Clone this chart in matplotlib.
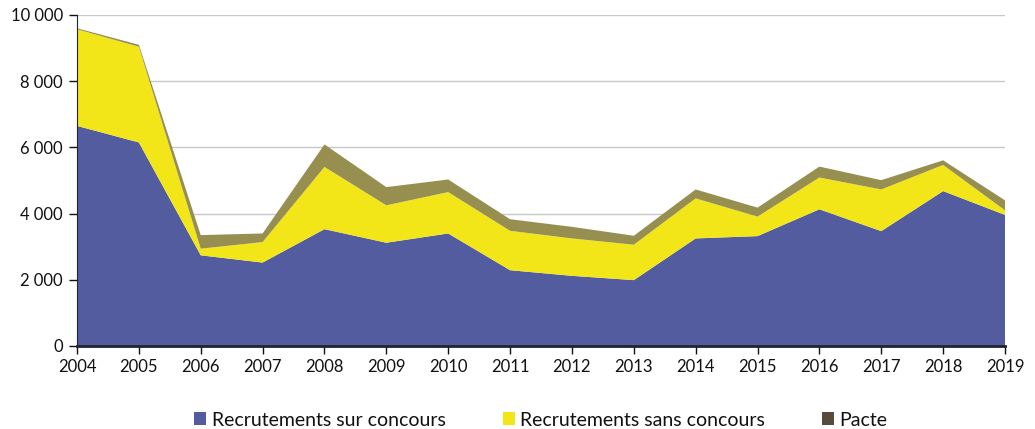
import matplotlib
matplotlib.use("Agg")
import matplotlib.pyplot as plt
from matplotlib.patches import Patch
from matplotlib.ticker import FuncFormatter

years = list(range(2004, 2020))
sur_concours = [6650, 6150, 2740, 2520, 3530, 3120, 3400, 2290, 2120, 1990, 3250, 3320, 4130, 3470, 4680, 3960]
sans_concours = [2920, 2890, 200, 620, 1880, 1130, 1250, 1190, 1130, 1070, 1210, 590, 960, 1260, 790, 140]
pacte = [30, 60, 410, 260, 680, 550, 380, 350, 350, 270, 270, 270, 330, 280, 140, 300]
series_labels = ["Recrutements sur concours", "Recrutements sans concours", "Pacte"]
area_colors = ["#525C9F", "#F2E619", "#968F50"]
legend_colors = ["#525C9F", "#F2E619", "#5A4A3B"]

plt.rcParams['font.family'] = ['Lato', 'DejaVu Sans']

fig = plt.figure(figsize=(10.35, 4.29), dpi=100)
ax = fig.add_axes([77/1035, 1 - 346/429, (1005 - 77)/1035, (346 - 15)/429])

ax.stackplot(years, sur_concours, sans_concours, pacte, colors=area_colors, linewidth=0)

ax.set_xlim(2004, 2019)
ax.set_ylim(0, 10000)
ax.set_yticks(range(0, 10001, 2000))
ax.set_xticks(years)
ax.yaxis.set_major_formatter(FuncFormatter(lambda v, p: f"{int(v):,}".replace(",", "\u202f")))
ax.grid(axis='y', color='#C8C8C8', linewidth=1)
ax.set_axisbelow(True)
for s in ['top', 'right']:
    ax.spines[s].set_visible(False)
ax.spines['left'].set_color('#222233')
ax.spines['bottom'].set_color('#222233')
ax.spines['bottom'].set_linewidth(2)
ax.tick_params(axis='both', labelsize=12, colors='#111111', length=6, width=1)
ax.tick_params(axis='y', pad=4)

handles = [Patch(facecolor=c, edgecolor='none') for c in legend_colors]
fig.legend(handles, series_labels, loc='center', bbox_to_anchor=(541/1035, 1 - 420/429),
           ncol=3, frameon=False, fontsize=14, handlelength=0.62, handleheight=0.62,
           handletextpad=0.3, columnspacing=2.9, labelcolor='#111111')

fig.savefig("out.png", dpi=100)
